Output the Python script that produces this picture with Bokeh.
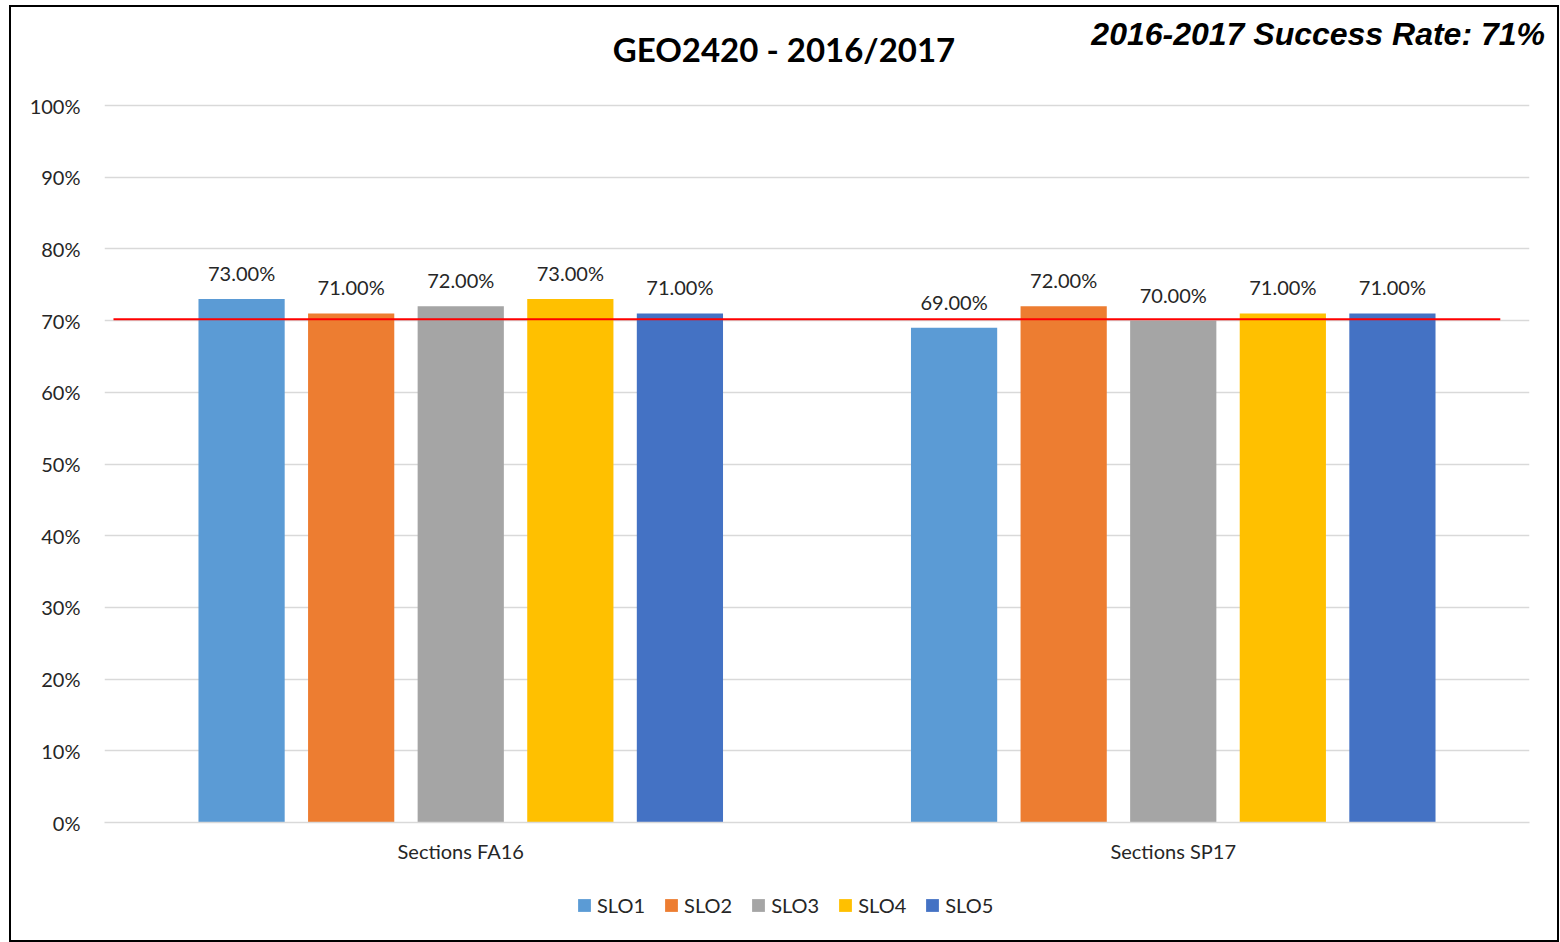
from bokeh.plotting import figure
from bokeh.layouts import column
from bokeh.models import (FactorRange, Range1d, ColumnDataSource, FixedTicker,
                          NumeralTickFormatter, Legend, LegendItem, Div)
from bokeh.transform import dodge
from bokeh.core.properties import value
from bokeh.embed import file_html
from bokeh.resources import INLINE

# ---- data ----
categories = ["Sections FA16", "Sections SP17"]
series = ["SLO1", "SLO2", "SLO3", "SLO4", "SLO5"]
slo1 = [0.73, 0.69]
slo2 = [0.71, 0.72]
slo3 = [0.72, 0.70]
slo4 = [0.73, 0.71]
slo5 = [0.71, 0.71]
target_rate = 0.702
title_text = "GEO2420 - 2016/2017"
rate_text = "2016-2017 Success Rate: 71%"
y_ticks = [0.0, 0.1, 0.2, 0.3, 0.4, 0.5, 0.6, 0.7, 0.8, 0.9, 1.0]

colors = ["#5B9BD5", "#ED7D31", "#A5A5A5", "#FFC000", "#4472C4"]
values = [slo1, slo2, slo3, slo4, slo5]

data = {"cat": categories}
for name, vals in zip(series, values):
    data[name] = vals
    data[name + "_lbl"] = ["%.2f%%" % (v * 100) for v in vals]
source = ColumnDataSource(data)

FONT = "Lato"
TEXT_COLOR = "#262626"
INNER_W = 1546
HEADER_H = 83

# ---- header (title + success rate) ----
header_html = (
    '<div style="position:relative;width:%dpx;height:%dpx;margin:0;padding:0;">'
    '<span style="position:absolute;left:473px;width:600px;top:22px;height:40px;'
    'line-height:40px;text-align:center;font-family:Lato;font-weight:bold;'
    'font-size:33px;color:#000;white-space:nowrap;">%s</span>'
    '<span style="position:absolute;right:12px;top:7px;height:40px;line-height:40px;'
    'text-align:right;font-family:\'Liberation Sans\';font-weight:bold;font-style:italic;'
    'font-size:32px;color:#000;white-space:nowrap;">%s</span>'
    '</div>' % (INNER_W, HEADER_H, title_text, rate_text)
)
header = Div(text=header_html, width=INNER_W, height=HEADER_H, margin=0,
             styles={"background-color": "white"})

# ---- main figure ----
p = figure(x_range=FactorRange(factors=categories, range_padding=0),
           y_range=Range1d(0, 1.007),
           width=INNER_W, height=782,
           output_backend="svg", toolbar_location=None,
           min_border_left=93, min_border_right=28,
           min_border_top=10, min_border_bottom=50, margin=0)

p.outline_line_color = None
p.background_fill_color = "white"
p.border_fill_color = "white"

p.xgrid.grid_line_color = None
p.ygrid.grid_line_color = "#D9D9D9"
p.ygrid.grid_line_width = 1.5
p.yaxis.ticker = FixedTicker(ticks=y_ticks)
p.yaxis.formatter = NumeralTickFormatter(format="0%")

p.yaxis.axis_line_color = None
p.yaxis.major_tick_line_color = None
p.yaxis.minor_tick_line_color = None
p.yaxis.major_tick_out = 0
p.yaxis.major_tick_in = 0
p.yaxis.major_label_standoff = 24
p.yaxis.major_label_text_font = FONT
p.yaxis.major_label_text_font_size = "20px"
p.yaxis.major_label_text_color = TEXT_COLOR

p.xaxis.axis_line_color = "#D9D9D9"
p.xaxis.axis_line_width = 1.5
p.xaxis.major_tick_line_color = None
p.xaxis.minor_tick_line_color = None
p.xaxis.major_tick_out = 0
p.xaxis.major_tick_in = 0
p.xaxis.major_label_standoff = 16
p.xaxis.major_label_text_font = FONT
p.xaxis.major_label_text_font_size = "20px"
p.xaxis.major_label_text_color = TEXT_COLOR

BAR_W = 0.121
STEP = 0.1538
for i, (name, col) in enumerate(zip(series, colors)):
    off = (i - 2) * STEP
    p.vbar(x=dodge("cat", off, range=p.x_range), top=name, width=BAR_W,
           source=source, fill_color=col, line_color=None)
    p.text(x=dodge("cat", off, range=p.x_range), y=name, text=name + "_lbl",
           source=source, text_align="center", text_baseline="middle",
           y_offset=-26, text_font=value(FONT), text_font_size="20px",
           text_color=TEXT_COLOR)

p.line(x=[0.0126, 1.959], y=[target_rate, target_rate], line_color="#FF0000",
       line_width=2)

# ---- legend strip (hidden copies of the series supply the swatches) ----
lf = figure(width=INNER_W, height=68,
            x_range=FactorRange(factors=categories, range_padding=0),
            y_range=Range1d(0, 1),
            x_axis_location=None, y_axis_location=None,
            output_backend="svg", toolbar_location=None,
            min_border=0, margin=0)
lf.outline_line_color = None
lf.grid.visible = False
lf.border_fill_color = "white"
lf.background_fill_color = "white"
items = []
for i, (name, col) in enumerate(zip(series, colors)):
    r = lf.vbar(x=dodge("cat", (i - 2) * STEP, range=lf.x_range), top=name,
                width=BAR_W, source=source, fill_color=col, line_color=None,
                visible=False)
    items.append(LegendItem(label=name, renderers=[r]))
legend = Legend(items=items, orientation="horizontal", location=(472, 23),
                glyph_width=16, glyph_height=16, label_standoff=5, spacing=18,
                padding=0, margin=0, border_line_color=None,
                background_fill_alpha=0, label_text_font=FONT,
                label_text_font_size="20px", label_text_color=TEXT_COLOR,
                label_height=20, click_policy="none")
lf.add_layout(legend, "center")

layout = column(header, p, lf, spacing=0, margin=(5, 0, 0, 9),
                styles={"border": "2px solid black", "background-color": "white"})

open("out.html", "w").write(file_html(layout, INLINE))
